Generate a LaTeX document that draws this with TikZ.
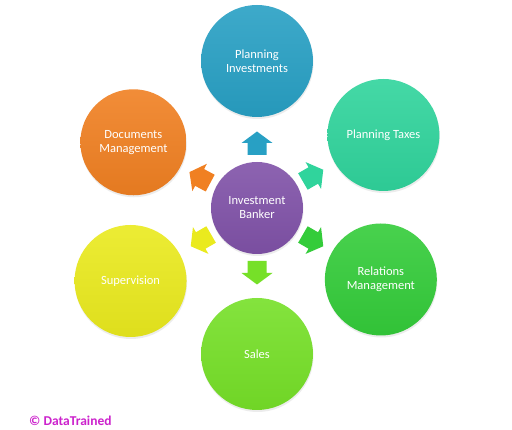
\documentclass[tikz,border=0pt]{standalone}
\usepackage{fontspec}
\setmainfont{Carlito}
\usetikzlibrary{calc,shadows}
\definecolor{cPI}{RGB}{40,160,196}
\definecolor{cPT}{RGB}{48,212,156}
\definecolor{cRM}{RGB}{52,204,58}
\definecolor{cSA}{RGB}{118,224,40}
\definecolor{cSU}{RGB}{234,234,30}
\definecolor{cDM}{RGB}{240,128,34}
\definecolor{cIB}{RGB}{128,82,168}
\definecolor{cMag}{RGB}{204,34,204}
\tikzset{
  bubble/.style={circle, minimum size=112pt, inner sep=0pt, align=center,
    text=white, font=\fontsize{12.5}{14}\selectfont,
    top color=#1!90!white, bottom color=#1!95!black,
    drop shadow={opacity=0.15, shadow xshift=0.5pt, shadow yshift=-2pt}},
  hub/.style={bubble=#1, minimum size=92pt},
  blockarrow/.style={fill=#1}
}
\begin{document}
\begin{tikzpicture}[x=1pt,y=1pt]
\useasboundingbox (0,0) rectangle (512,430);
\fill[white] (0,0) rectangle (512,430);
\node[hub=cIB] (ib) at (257,222) {Investment\\Banker};
\node[bubble=cPI] (pi) at ($(ib)+(90:147)$) {Planning\\Investments};
\node[bubble=cPT] (pt) at ($(ib)+(30:146)$) {Planning Taxes};
\node[bubble=cRM] (rm) at ($(ib)+(-30:143)$) {Relations\\Management};
\node[bubble=cSA] (sa) at ($(ib)+(-90:146)$) {Sales};
\node[bubble=cSU] (su) at ($(ib)+(210:146)$) {Supervision};
\node[bubble=cDM, minimum size=106pt] (dm) at ($(ib)+(152:140)$) {Documents\\Management};
\foreach \n/\a/\c in {pi/90/cPI, pt/30/cPT, rm/-30/cRM, sa/-90/cSA, su/210/cSU, dm/152/cDM}{
  \begin{scope}[shift={($(ib.center)!65pt!(\n.center)$)}, rotate=\a]
    \fill[blockarrow=\c] (-12,-9.5) -- (0,-9.5) -- (0,-15.5) -- (11.5,0)
      -- (0,15.5) -- (0,9.5) -- (-12,9.5) -- cycle;
  \end{scope}
}
\node[anchor=west, text=cMag, font=\bfseries\fontsize{13.5}{15}\selectfont, inner sep=0pt] (dt) at (29,9) {© DataTrained};
\end{tikzpicture}
\end{document}
